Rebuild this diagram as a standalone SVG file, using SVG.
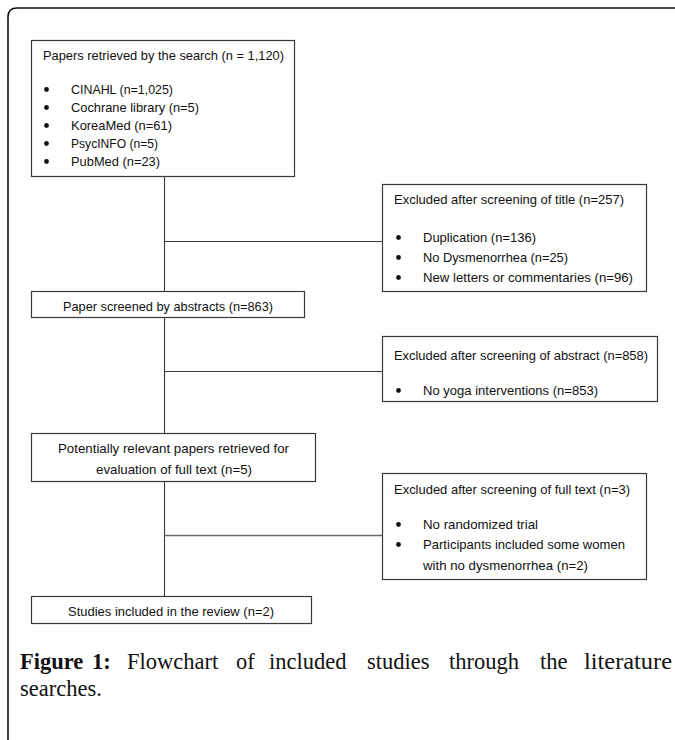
<svg xmlns="http://www.w3.org/2000/svg" width="675" height="740" viewBox="0 0 675 740">
<style>
.frame{fill:none;stroke:#111;stroke-width:1.6}
.box{fill:#fff;stroke:#3a3a3a;stroke-width:1.2}
.con{fill:none;stroke:#3a3a3a;stroke-width:1.1}
.t{font-family:"Liberation Sans",Arial,sans-serif;font-size:13px;fill:#111}
.b{fill:#111}
.cap{font-family:"Liberation Serif","Times New Roman",serif;font-size:22.5px;fill:#111}
.capb{font-weight:bold}
</style>
<rect width="675" height="740" fill="#fff"/>
<path class="frame" d="M8,740 V17 Q8,8 17,8 H675"/>

<g id="connectors">
<path class="con" d="M164.5,176 V291"/>
<path class="con" d="M164.5,241.5 H382"/>
<path class="con" d="M164.5,317 V433"/>
<path class="con" d="M164.5,371.5 H382"/>
<path class="con" d="M164.5,482 V596"/>
<path class="con" d="M164.5,535.5 H382" style="stroke:#6a6a6a;stroke-width:1.6"/>
</g>

<g id="n1">
<rect class="box" x="31.5" y="40.5" width="263" height="136"/>
<text class="t" x="43" y="60" textLength="241" lengthAdjust="spacingAndGlyphs">Papers retrieved by the search (n = 1,120)</text>
<circle class="b" cx="46.5" cy="89.5" r="2.4"/>
<text class="t" x="71" y="94" textLength="102" lengthAdjust="spacingAndGlyphs">CINAHL (n=1,025)</text>
<circle class="b" cx="46.5" cy="107.5" r="2.4"/>
<text class="t" x="71" y="112" textLength="128" lengthAdjust="spacingAndGlyphs">Cochrane library (n=5)</text>
<circle class="b" cx="46.5" cy="125.5" r="2.4"/>
<text class="t" x="71" y="130" textLength="101" lengthAdjust="spacingAndGlyphs">KoreaMed (n=61)</text>
<circle class="b" cx="46.5" cy="143.5" r="2.4"/>
<text class="t" x="71" y="148" textLength="87" lengthAdjust="spacingAndGlyphs">PsycINFO (n=5)</text>
<circle class="b" cx="46.5" cy="161.5" r="2.4"/>
<text class="t" x="71" y="166" textLength="89" lengthAdjust="spacingAndGlyphs">PubMed (n=23)</text>
</g>

<g id="n2">
<rect class="box" x="382.5" y="184.5" width="264" height="107"/>
<text class="t" x="394" y="204" textLength="230" lengthAdjust="spacingAndGlyphs">Excluded after screening of title (n=257)</text>
<circle class="b" cx="398.5" cy="237.5" r="2.4"/>
<text class="t" x="423" y="242" textLength="113" lengthAdjust="spacingAndGlyphs">Duplication (n=136)</text>
<circle class="b" cx="398.5" cy="257.5" r="2.4"/>
<text class="t" x="423" y="262" textLength="145" lengthAdjust="spacingAndGlyphs">No Dysmenorrhea (n=25)</text>
<circle class="b" cx="398.5" cy="277.5" r="2.4"/>
<text class="t" x="423" y="282" textLength="210" lengthAdjust="spacingAndGlyphs">New letters or commentaries (n=96)</text>
</g>

<g id="n3">
<rect class="box" x="31.5" y="291.5" width="273" height="26"/>
<text class="t" x="63" y="311" textLength="210" lengthAdjust="spacingAndGlyphs">Paper screened by abstracts (n=863)</text>
</g>

<g id="n4">
<rect class="box" x="382.5" y="336.5" width="275" height="65"/>
<text class="t" x="394" y="360" textLength="254" lengthAdjust="spacingAndGlyphs">Excluded after screening of abstract (n=858)</text>
<circle class="b" cx="398.5" cy="390.5" r="2.4"/>
<text class="t" x="423" y="395" textLength="175" lengthAdjust="spacingAndGlyphs">No yoga interventions (n=853)</text>
</g>

<g id="n5">
<rect class="box" x="31.5" y="433.5" width="284" height="48"/>
<text class="t" x="58" y="453" textLength="231" lengthAdjust="spacingAndGlyphs">Potentially relevant papers retrieved for</text>
<text class="t" x="96" y="474" textLength="156" lengthAdjust="spacingAndGlyphs">evaluation of full text (n=5)</text>
</g>

<g id="n6">
<rect class="box" x="382.5" y="473.5" width="264" height="106"/>
<text class="t" x="394" y="494" textLength="236" lengthAdjust="spacingAndGlyphs">Excluded after screening of full text (n=3)</text>
<circle class="b" cx="398.5" cy="524.5" r="2.4"/>
<text class="t" x="423" y="529" textLength="115" lengthAdjust="spacingAndGlyphs">No randomized trial</text>
<circle class="b" cx="398.5" cy="544.5" r="2.4"/>
<text class="t" x="423" y="549" textLength="202" lengthAdjust="spacingAndGlyphs">Participants included some women</text>
<text class="t" x="423" y="570" textLength="165" lengthAdjust="spacingAndGlyphs">with no dysmenorrhea (n=2)</text>
</g>

<g id="n7">
<rect class="box" x="31.5" y="596.5" width="280" height="27"/>
<text class="t" x="68" y="616" textLength="206" lengthAdjust="spacingAndGlyphs">Studies included in the review (n=2)</text>
</g>

<g id="caption">
<text class="cap" y="669"><tspan class="capb" x="20">Figure</tspan><tspan class="capb" x="92">1:</tspan><tspan x="127">Flowchart</tspan><tspan x="236">of</tspan><tspan x="269">included</tspan><tspan x="367">studies</tspan><tspan x="449">through</tspan><tspan x="540">the</tspan><tspan x="584" textLength="88" lengthAdjust="spacingAndGlyphs">literature</tspan></text>
<text class="cap" x="20" y="696">searches.</text>
</g>
</svg>
